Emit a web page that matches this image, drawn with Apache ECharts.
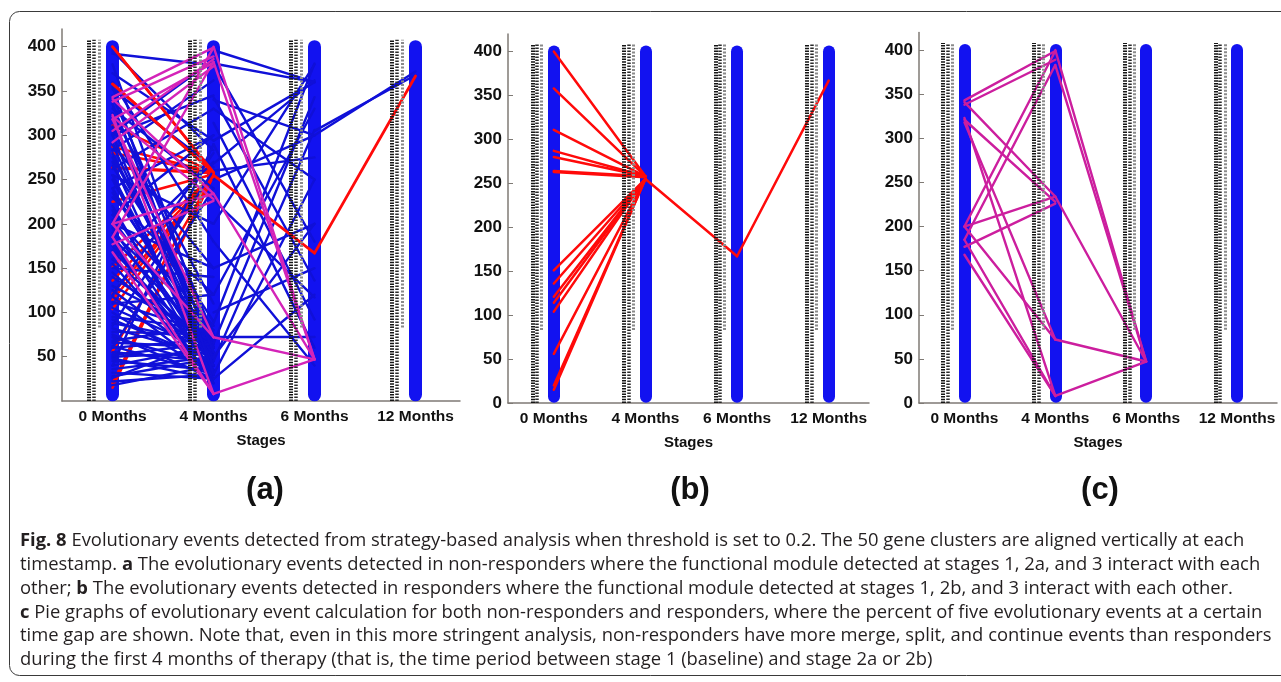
<!DOCTYPE html>
<html><head><meta charset="utf-8">
<script src="https://cdn.jsdelivr.net/npm/echarts@6/dist/echarts.min.js"></script>
<style>html,body{margin:0;padding:0;background:#fff}#c{width:1281px;height:682px}</style>
</head><body><div id="c"></div><script>
// ---------------- data ----------------
const categories = ['0 Months', '4 Months', '6 Months', '12 Months'];
const stageX = [1, 2, 3, 4];
const yTicksA = [50, 100, 150, 200, 250, 300, 350, 400];
const yTicksBC = [0, 50, 100, 150, 200, 250, 300, 350, 400];
const yMax = 420;
const columnSpan = [7, 400];        // the 50 gene clusters column at every stage
const labelSpanLong = [0, 408];     // cluster label text columns
const labelSpanShort = [83, 408];

// red events (responders) : [value at from-stage, value at to-stage]
const red_0to4 = [[400,258],[358,258],[311,258],[287,258],[280,258],[264,258],[263,257],[225,256],[151,255],[136,255],[121,255],[114,255],[104,255],[56,255],[20,255],[15,255]];
const red_4to6 = [[255,167]];
const red_6to12 = [[167,367]];

// magenta events (panel c)
const mag_0to4 = [[338,389],[343,399],[341,234],[321,228],[318,72],[323,8],[200,399],[185,383],[200,234],[177,226],[168,8],[185,8],[200,72]];
const mag_4to6 = [[400,47],[383,47],[234,47],[72,47],[8,47]];
const magExtraA_0to4 = [[318,382],[305,386],[292,378]];

// blue events (panel a only)
const blue_0to4 = [
  [392,379],[395,283],[370,294],[352,264],[330,240],[302,385],[283,362],[300,345],[262,330],[240,300],
  [380,60],[345,75],[320,45],[300,30],[280,55],[265,90],[250,40],[235,65],[220,25],[205,50],
  [190,80],[175,35],[160,60],[145,45],[130,70],[118,30],[105,55],[95,80],[88,65],[82,50],
  [78,75],[72,40],[66,60],[60,70],[55,45],[50,55],[45,35],[40,62],[32,25],[28,48],[22,30],[18,40],
  [85,260],[60,240],[40,290],[120,280],[160,270],[210,300],[255,200],[290,150],[325,110],[360,180],
  [230,120],[200,150],[150,140],[110,120],
  [270,20],[255,35],[240,50],[215,40],[195,30],[185,60],[170,50],[155,25],[140,65],[125,40],
  [112,75],[100,30],[92,45],[75,25],[68,85],[62,30],[52,65],[48,25],[36,50],[26,70],
  [310,60],[290,40],[335,55],[355,30],[275,70],[210,85],[180,20]
];
const blue_4to6 = [
  [396,360],[381,360],[294,360],[268,362],[88,381],[65,343],[45,306],[343,136],[314,92],[227,117],[72,72],
  [250,300],[200,380],[120,330],[30,250],[290,60],[380,180],[150,200],[100,150],[180,40],[330,250],
  [260,275],[50,200],[25,120],[340,300]
];
const blue_6to12 = [[305,368],[300,372]];

const captionLines = [
  '{b|Fig. 8} Evolutionary events detected from strategy-based analysis when threshold is set to 0.2. The 50 gene clusters are aligned vertically at each',
  'timestamp. {b|a} The evolutionary events detected in non-responders where the functional module detected at stages 1, 2a, and 3 interact with each',
  'other; {b|b} The evolutionary events detected in responders where the functional module detected at stages 1, 2b, and 3 interact with each other.',
  '{b|c} Pie graphs of evolutionary event calculation for both non-responders and responders, where the percent of five evolutionary events at a certain',
  'time gap are shown. Note that, even in this more stringent analysis, non-responders have more merge, split, and continue events than responders',
  'during the first 4 months of therapy (that is, the time period between stage 1 (baseline) and stage 2a or 2b)'
];
const panelLabels = ['(a)', '(b)', '(c)'];

// ---------------- styles ----------------
const LAB = "'Liberation Sans', Arial, sans-serif";
const BLUE = '#1212f0', RED = '#ff0a0a', MAG = '#cc1e9e', AXIS = '#7f7a75';
const grids = [
  {left: 62, top: 29, width: 398, height: 372},
  {left: 508, top: 34, width: 361, height: 369},
  {left: 919, top: 32.4, width: 358, height: 370.6}
];
const colW = [13, 12, 12];
const strandOff = [-0.235, -0.185, -0.135];

function segs(list, from, to) {
  return list.map(p => ({coords: [[stageX[from], p[0]], [stageX[to], p[1]]]}));
}
function linesSeries(i, data, color, width, extra) {
  return Object.assign({
    type: 'lines', coordinateSystem: 'cartesian2d', xAxisIndex: i, yAxisIndex: i,
    polyline: false, silent: true, animation: false, data: data,
    lineStyle: {color: color, width: width, opacity: 1, cap: 'round', curveness: 0}
  }, extra || {});
}

const xAxes = [], yAxes = [], series = [];
grids.forEach((g, i) => {
  g.outerBoundsMode = 'none';
  g.containLabel = false;
  xAxes.push({
    type: 'value', gridIndex: i, min: 0.5, max: 4.44,
    axisLine: {show: true, onZero: false, lineStyle: {color: AXIS, width: 1.5}},
    axisTick: {show: false}, splitLine: {show: false},
    axisLabel: {customValues: stageX, margin: 8, color: '#111', fontSize: 15.5, fontWeight: 'bold', fontFamily: LAB,
      formatter: v => categories[stageX.indexOf(Math.round(v))] || ''},
    name: 'Stages', nameLocation: 'middle', nameGap: 32,
    nameTextStyle: {color: '#111', fontSize: 15, fontWeight: 'bold', fontFamily: LAB}
  });
  const ticks = i === 0 ? yTicksA : yTicksBC;
  yAxes.push({
    type: 'value', gridIndex: i, min: 0, max: yMax,
    axisLine: {show: true, lineStyle: {color: AXIS, width: 1.5}},
    axisTick: {show: true, inside: true, length: 5, customValues: ticks, lineStyle: {color: AXIS}},
    splitLine: {show: false},
    axisLabel: {customValues: ticks, margin: 6, color: '#111', fontSize: 17, fontWeight: 'bold', fontFamily: LAB}
  });
  // cluster columns
  series.push(linesSeries(i, stageX.map(s => ({coords: [[s, columnSpan[0]], [s, columnSpan[1]]]})), BLUE, colW[i]));
});

// panel a event lines
series.push(linesSeries(0, segs(red_0to4, 0, 1), RED, 2.5));
series.push(linesSeries(0, segs(blue_0to4, 0, 1).concat(segs(blue_4to6, 1, 2), segs(blue_6to12, 2, 3)), '#1010d8', 2.4));
series.push(linesSeries(0, segs([red_0to4[0], red_0to4[1]], 0, 1), RED, 2.8));
series.push(linesSeries(0, segs(red_4to6, 1, 2).concat(segs(red_6to12, 2, 3)), RED, 2.8));
series.push(linesSeries(0, segs(mag_0to4, 0, 1).concat(segs(magExtraA_0to4, 0, 1), segs(mag_4to6, 1, 2)), '#d424b8', 2.4));
// panel b
series.push(linesSeries(1, segs(red_0to4.filter((p, k) => k !== 7), 0, 1).concat(segs(red_4to6, 1, 2), segs(red_6to12, 2, 3)), RED, 2.5));
// panel c
series.push(linesSeries(2, segs(mag_0to4, 0, 1).concat(segs(mag_4to6, 1, 2)), MAG, 2.4));

// label text columns (drawn on top)
grids.forEach((g, i) => {
  const mk = (off, span) => stageX.map(s => ({coords: [[s + off, span[0]], [s + off, span[1]]]}));
  series.push(linesSeries(i, mk(strandOff[0], labelSpanLong), '#151515', 4, {lineStyle: {color: '#151515', width: 4, opacity: 1, type: [1.5, 1.2]}}));
  series.push(linesSeries(i, mk(strandOff[1], labelSpanLong), '#333', 3.5, {lineStyle: {color: '#2a2a2a', width: 3.5, opacity: 1, type: [1.5, 1.5]}}));
  series.push(linesSeries(i, mk(strandOff[2], labelSpanShort), '#888', 3, {lineStyle: {color: '#8a8a8a', width: 3, opacity: 1, type: [2, 1.5]}}));
});

const graphic = [
  {type: 'rect', silent: true, shape: {x: 9.5, y: 11.5, width: 1300, height: 664, r: 10},
   style: {fill: 'none', stroke: '#3a3a3a', lineWidth: 1}}
];
const labelX = [265, 690, 1100];
panelLabels.forEach((t, i) => graphic.push({
  type: 'text', silent: true, x: labelX[i], y: 490,
  style: {text: t, fill: '#111', font: "bold 31px 'Liberation Sans', Arial, sans-serif", textAlign: 'center', textVerticalAlign: 'middle'}
}));
captionLines.forEach((t, k) => graphic.push({
  type: 'text', silent: true, x: 20, y: 541 + k * 23.8,
  style: {
    text: t, fill: '#231f20', font: "18.4px 'Open Sans', sans-serif", textVerticalAlign: 'middle',
    rich: {b: {fontWeight: 'bold', fontSize: 18.4, fontFamily: 'Open Sans', fill: '#231f20'}}
  }
}));

const chart = echarts.init(document.getElementById('c'), null, {renderer: 'canvas'});
chart.setOption({
  backgroundColor: '#fff', animation: false,
  grid: grids, xAxis: xAxes, yAxis: yAxes, series: series, graphic: graphic
});
</script></body></html>
